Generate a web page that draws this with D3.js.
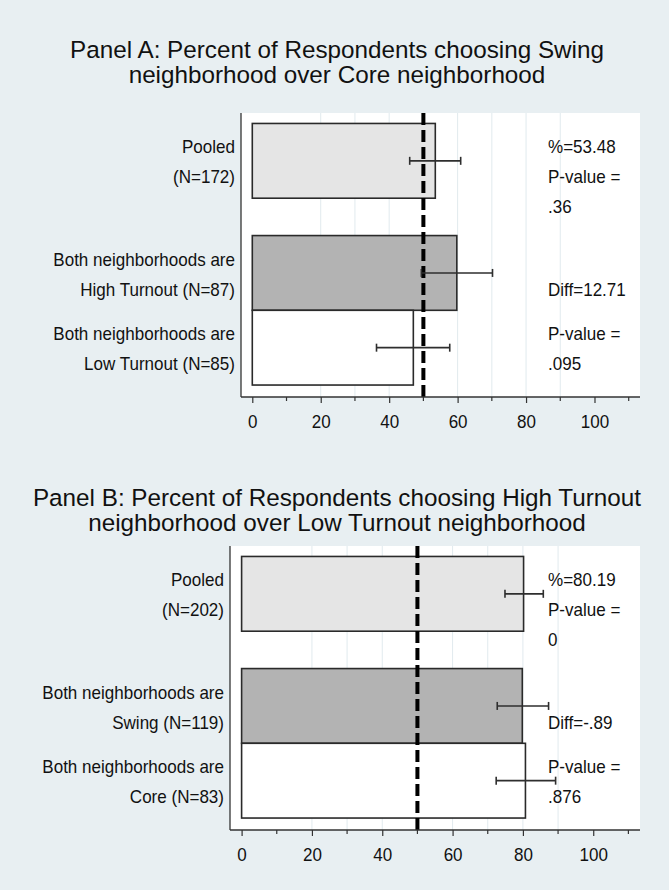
<!DOCTYPE html>
<html>
<head>
<meta charset="utf-8">
<script src="https://cdn.jsdelivr.net/npm/d3@7/dist/d3.min.js"></script>
<style>
  html, body { margin: 0; padding: 0; background: #e8eff2; }
  svg { display: block; font-family: "Liberation Sans", Arial, Helvetica, sans-serif; }
</style>
</head>
<body>
<svg id="chart" width="669" height="890"></svg>
<script>
// ---- Panel A: Swing vs Core ----
const titleA = ["Panel A: Percent of Respondents choosing Swing",
                "neighborhood over Core neighborhood"];
const categoriesA = [["Pooled", "(N=172)"],
                     ["Both neighborhoods are", "High Turnout (N=87)"],
                     ["Both neighborhoods are", "Low Turnout (N=85)"]];
const valuesA = [53.48, 59.77, 47.06];
const ciLowA  = [46.0, 49.4, 36.3];
const ciHighA = [60.9, 70.2, 57.7];
const notesA  = [["%=53.48", "P-value =", ".36"],
                 [null, "Diff=12.71"],
                 ["P-value =", ".095"]];

// ---- Panel B: High vs Low turnout ----
const titleB = ["Panel B: Percent of Respondents choosing High Turnout",
                "neighborhood over Low Turnout neighborhood"];
const categoriesB = [["Pooled", "(N=202)"],
                     ["Both neighborhoods are", "Swing (N=119)"],
                     ["Both neighborhoods are", "Core (N=83)"]];
const valuesB = [80.19, 79.83, 80.72];
const ciLowB  = [74.9, 72.7, 72.4];
const ciHighB = [85.8, 87.3, 89.3];
const notesB  = [["%=80.19", "P-value =", "0"],
                 [null, "Diff=-.89"],
                 ["P-value =", ".876"]];

// ---- shared axis settings ----
const majorTicks = [0, 20, 40, 60, 80, 100];
const minorTicks = [10, 30, 50, 70, 90, 110];
const gridValues = [20, 30, 40, 60, 70, 80, 90];
const referenceValue = 50;

const barFills = ["#e5e5e5", "#b3b3b3", "#ffffff"];
const slotOf = [0, 1.5, 2.5];   // vertical slot of each bar (gap after pooled)

const svg = d3.select("#chart");

// slightly narrowed glyphs, like the tall sans used in the figure
function narrow(sel, k) {
  sel.each(function () {
    const len = this.getComputedTextLength();
    if (len > 0) {
      this.setAttribute("textLength", len * k);
      this.setAttribute("lengthAdjust", "spacingAndGlyphs");
    }
  });
}

function drawPanel(p) {
  const g = svg.append("g");

  // title
  g.selectAll("text.title").data(p.title).enter().append("text")
    .attr("class", "title")
    .attr("x", 337)
    .attr("y", (d, i) => p.titleY + i * 25)
    .attr("text-anchor", "middle")
    .attr("font-size", 24.5)
    .attr("fill", "#111")
    .text(d => d)
    .call(narrow, 0.99);

  const x = d3.scaleLinear().domain([-3.3, 113.3]).range([p.left, p.right]);
  const y = d3.scaleLinear().domain([-0.64, 3.16]).range([p.top, p.bottom]);
  const barH = y(1) - y(0);

  // plot region
  g.append("rect")
    .attr("x", p.left).attr("y", p.top)
    .attr("width", p.right - p.left).attr("height", p.bottom - p.top)
    .attr("fill", "#ffffff");

  // gridlines
  g.selectAll("line.grid").data(gridValues).enter().append("line")
    .attr("x1", d => x(d)).attr("x2", d => x(d))
    .attr("y1", p.top).attr("y2", p.bottom)
    .attr("stroke", "#e1eaee").attr("stroke-width", 1);

  const rows = p.values.map((v, i) => ({
    v, lo: p.lo[i], hi: p.hi[i], label: p.cats[i], note: p.notes[i],
    fill: barFills[i], cy: y(slotOf[i])
  }));

  // bars
  g.selectAll("rect.bar").data(rows).enter().append("rect")
    .attr("x", x(0))
    .attr("y", d => d.cy - barH / 2)
    .attr("width", d => x(d.v) - x(0))
    .attr("height", barH)
    .attr("fill", d => d.fill)
    .attr("stroke", "#2a2a2a").attr("stroke-width", 1.6);

  // reference line at 50%
  g.append("line")
    .attr("x1", x(referenceValue)).attr("x2", x(referenceValue))
    .attr("y1", p.top).attr("y2", p.bottom)
    .attr("stroke", "#000").attr("stroke-width", 4)
    .attr("stroke-dasharray", "12,5");

  // confidence intervals
  const ci = g.selectAll("g.ci").data(rows).enter().append("g")
    .attr("stroke", "#2e2e2e").attr("stroke-width", 1.6);
  ci.append("line")
    .attr("x1", d => x(d.lo)).attr("x2", d => x(d.hi))
    .attr("y1", d => d.cy).attr("y2", d => d.cy);
  ci.append("line")
    .attr("x1", d => x(d.lo)).attr("x2", d => x(d.lo))
    .attr("y1", d => d.cy - 4).attr("y2", d => d.cy + 4);
  ci.append("line")
    .attr("x1", d => x(d.hi)).attr("x2", d => x(d.hi))
    .attr("y1", d => d.cy - 4).attr("y2", d => d.cy + 4);

  // category labels (two lines, right-aligned against the axis) and notes
  rows.forEach(r => {
    r.label.forEach((t, j) => {
      g.append("text")
        .attr("x", p.left - 6)
        .attr("y", r.cy - 14 + j * 30)
        .attr("dy", "0.36em")
        .attr("text-anchor", "end")
        .attr("font-size", 18.5)
        .attr("fill", "#111")
        .text(t)
        .call(narrow, 0.92);
    });
    r.note.forEach((t, j) => {
      if (!t) return;
      g.append("text")
        .attr("x", p.right - 92)
        .attr("y", r.cy - 14 + j * 30)
        .attr("dy", "0.36em")
        .attr("font-size", 18.5)
        .attr("fill", "#111")
        .text(t)
        .call(narrow, 0.92);
    });
  });

  // axes
  g.append("line")
    .attr("x1", p.left).attr("x2", p.left)
    .attr("y1", p.top).attr("y2", p.bottom)
    .attr("stroke", "#333").attr("stroke-width", 1.3);

  const axis = g.append("g").attr("transform", `translate(0,${p.bottom})`)
    .call(d3.axisBottom(x).tickValues(majorTicks).tickSize(6).tickPadding(12)
      .tickSizeOuter(0).tickFormat(d3.format("d")));
  axis.select(".domain").attr("stroke", "#333").attr("stroke-width", 1.3)
    .attr("d", `M${p.left},0H${p.right}`);
  axis.selectAll(".tick line").attr("stroke", "#333").attr("stroke-width", 1.2);
  axis.selectAll(".tick text").attr("font-size", 18.5).attr("fill", "#111")
    .attr("font-family", "Liberation Sans, Arial, sans-serif")
    .call(narrow, 0.92);

  g.selectAll("line.minor").data(minorTicks).enter().append("line")
    .attr("x1", d => x(d)).attr("x2", d => x(d))
    .attr("y1", p.bottom).attr("y2", p.bottom + 4)
    .attr("stroke", "#333").attr("stroke-width", 1.2);
}

drawPanel({ title: titleA, titleY: 58, cats: categoriesA, values: valuesA,
            lo: ciLowA, hi: ciHighA, notes: notesA,
            left: 241, right: 640, top: 113, bottom: 397 });
drawPanel({ title: titleB, titleY: 506, cats: categoriesB, values: valuesB,
            lo: ciLowB, hi: ciHighB, notes: notesB,
            left: 230, right: 640, top: 546, bottom: 830 });
</script>
</body>
</html>
